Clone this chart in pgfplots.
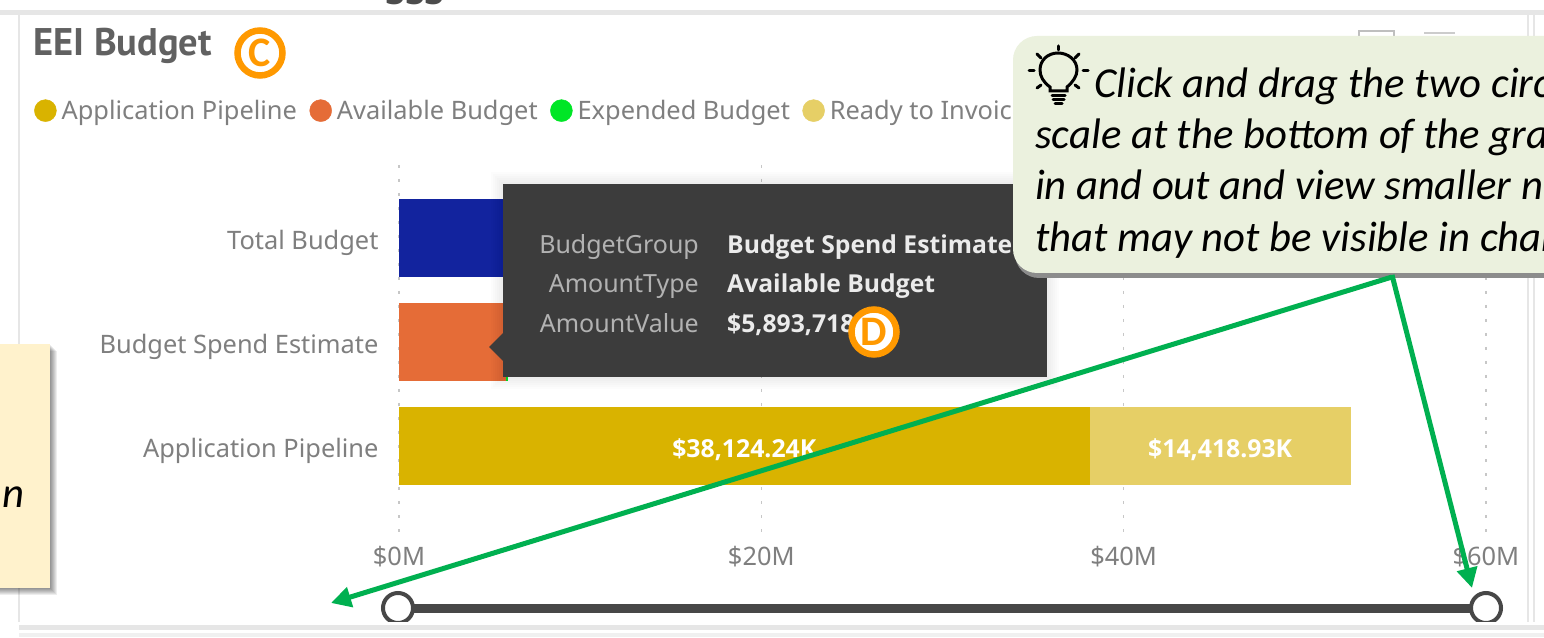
\documentclass[border=0pt]{standalone}
\usepackage{fontspec}
\setmainfont{Noto Sans}
\newfontfamily\calibri{Carlito}
\newfontfamily\titlefont{PT Sans}
\newfontfamily\boldfont{Open Sans}
\usepackage{pgfplots}
\pgfplotsset{compat=1.18}
\usetikzlibrary{arrows.meta}
\definecolor{pipe}{HTML}{D9B300}
\definecolor{avail}{HTML}{E56C37}
\definecolor{exp}{HTML}{00E626}
\definecolor{ready}{HTML}{E6CF66}
\definecolor{total}{HTML}{12239E}
\definecolor{ticktxt}{HTML}{7F7F7F}
\definecolor{callout}{HTML}{EBF1DE}
\definecolor{note}{HTML}{FFF2CC}
\definecolor{arrowg}{HTML}{00B050}
\definecolor{ringo}{HTML}{FF9900}
\definecolor{tip}{HTML}{3C3C3C}
\definecolor{band}{HTML}{E6E6E6}
\begin{document}
\begin{tikzpicture}
\path[use as bounding box] (0pt,0pt) rectangle (1544pt,637pt);
\clip (0pt,0pt) rectangle (1544pt,637pt);
\begin{scope}[x=1pt,y=-1pt,shift={(0pt,637pt)}]
  % cut-off text at the very top
  \node[anchor=center,text=black!70,font=\boldfont\fontsize{36}{36}\selectfont\bfseries] at (415,-8) {SSS};
  \fill[white] (0,10) rectangle (1544,637);
  % panel frame
  \fill[band] (0,10) rectangle (1544,15);
  \draw[band,line width=1.5pt] (19,12) -- (19,628);
  \draw[band,line width=2pt] (1528,12) -- (1528,628);
  \draw[band,line width=2pt] (1534,12) -- (1534,628);
  \draw[black!25,line width=1.2pt] (1359,37) -- (1359,31) -- (1394,31) -- (1394,37);
  \draw[black!20,line width=1.2pt] (1424,33) -- (1455,33);
\end{scope}

\begin{axis}[
  at={(399pt,102pt)},anchor=south west,
  scale only axis,width=1087pt,height=370pt,
  xbar stacked,bar width=78pt,
  xmin=0,xmax=60,
  ymin=-0.702,ymax=2.856,y dir=reverse,
  xtick={0,20,40,60},
  xticklabels={\$0M,\$20M,\$40M,\$60M},
  ytick={0,1,2},
  yticklabels={Total Budget,Budget Spend Estimate,Application Pipeline},
  xmajorgrids=true,
  grid style={draw=black!22,line width=1.2pt,dash pattern=on 3pt off 11pt},
  axis line style={draw=none},
  major tick style={draw=none},
  tick label style={font=\fontsize{25.4}{25.4}\selectfont,text=ticktxt},
  yticklabel style={xshift=-17pt,yshift=-5pt},
  xticklabel style={yshift=-8pt},
  title={EEI Budget},
  every axis title shift=0pt,
  title style={at={(-0.3367,1.3220)},anchor=west,font=\titlefont\fontsize{38.5}{38.5}\selectfont\bfseries,text=black!62,inner sep=0pt},
  legend columns=4,
  legend style={at={(-0.3358,1.1810)},anchor=north west,draw=none,fill=none,
    font=\fontsize{25.4}{25.4}\selectfont,text=ticktxt,inner sep=0pt,
    /tikz/every odd column/.style={column sep=3pt},
    /tikz/every even column/.style={column sep=10.5pt}},
  legend cell align=left,
  clip=false,
]
\addlegendimage{legend image code/.code={\fill[pipe] (11pt,0pt) circle (11pt);}}
\addlegendentry{Application Pipeline}
\addlegendimage{legend image code/.code={\fill[avail] (11pt,0pt) circle (11pt);}}
\addlegendentry{Available Budget}
\addlegendimage{legend image code/.code={\fill[exp] (11pt,0pt) circle (11pt);}}
\addlegendentry{Expended Budget}
\addlegendimage{legend image code/.code={\fill[ready] (11pt,0pt) circle (11pt);}}
\addlegendentry{Ready to Invoice}
\addplot[forget plot,fill=total,draw=none] coordinates {(6.0,0) (0,1) (0,2)};
\addplot[forget plot,fill=avail,draw=none] coordinates {(0,0) (5.894,1) (0,2)};
\addplot[forget plot,fill=exp,draw=none] coordinates {(0,0) (0.12,1) (0,2)};
\addplot[forget plot,fill=pipe,draw=none] coordinates {(0,0) (0,1) (38.124,2)};
\addplot[forget plot,fill=ready,draw=none] coordinates {(0,0) (0,1) (14.419,2)};
\end{axis}
% value labels over the stacked bars, same geometry
\begin{axis}[
  at={(399pt,102pt)},anchor=south west,
  scale only axis,width=1087pt,height=370pt,
  xmin=0,xmax=60,ymin=-0.702,ymax=2.856,y dir=reverse,
  hide axis,clip=false,
]
\addplot[draw=none,mark=none,point meta=explicit symbolic,
  nodes near coords,nodes near coords align=center,
  every node near coord/.append style={text=white,anchor=center,font=\boldfont\fontsize{24.8}{24.8}\selectfont\bfseries}]
  coordinates {(19.06,2.04)[\$38,124.24K] (45.33,2.04)[\$14,418.93K]};
\end{axis}

\begin{scope}[x=1pt,y=-1pt,shift={(0pt,637pt)}]
  % tooltip
  \foreach \d in {2,4,...,12}{\fill[black,opacity=.012] (503-\d,184-\d) rectangle (1047+\d,377+\d);}
  \fill[tip] (503,184) rectangle (1047,377);
  \fill[tip] (489,347) -- (503,333) -- (503,361) -- cycle;
  \begin{scope}[every node/.style={inner sep=0pt}]
    \node[anchor=base east,text=black!30,font=\fontsize{25}{25}\selectfont] at (699,254) {BudgetGroup};
    \node[anchor=base east,text=black!30,font=\fontsize{25}{25}\selectfont] at (699,293) {AmountType};
    \node[anchor=base east,text=black!30,font=\fontsize{25}{25}\selectfont] at (699,333) {AmountValue};
    \node[anchor=base west,text=black!8,font=\boldfont\fontsize{24.7}{24.7}\selectfont\bfseries] at (727,254) {Budget Spend Estimate};
    \node[anchor=base west,text=black!8,font=\boldfont\fontsize{24.7}{24.7}\selectfont\bfseries] at (727,293) {Available Budget};
    \node[anchor=base west,text=black!8,font=\boldfont\fontsize{24.7}{24.7}\selectfont\bfseries] at (727,333) {\$5,893,718};
  \end{scope}
  % left note
  \foreach \d in {1,2,...,7}{\fill[black,opacity=.07] (0,344+\d) rectangle (50+\d,588+\d);}
  \fill[note] (0,344) rectangle (50,588);
  \node[anchor=base west,inner sep=0pt,font=\calibri\itshape\fontsize{42.7}{42.7}\selectfont] at (2,508) {n};
  % callout
  \fill[black!45,rounded corners=24pt] (1015,42) rectangle (1600,278);
  \fill[callout,rounded corners=24pt] (1013,36) rectangle (1600,273);
  \begin{scope}[every node/.style={anchor=base west,inner sep=0pt,font=\calibri\itshape\fontsize{42.7}{42.7}\selectfont}]
    \node at (1094,98) {Click and drag the two circles on the};
    \node at (1035,149) {scale at the bottom of the graph to zoom};
    \node at (1035,200) {in and out and view smaller numbers};
    \node at (1035,252) {that may not be visible in charts};
  \end{scope}
  % bulb icon
  \begin{scope}[line width=3pt,black,line cap=round]
    \draw (1050,91) -- (1050,87) .. controls (1043,82) and (1040,76) .. (1040,70)
      .. controls (1040,60) and (1048,53) .. (1058,53)
      .. controls (1068,53) and (1077,60) .. (1077,70)
      .. controls (1077,76) and (1073,82) .. (1067,87) -- (1067,91) -- cycle;
    \draw (1052,96) -- (1065,96);
    \draw (1053,100) -- (1064,100);
    \draw (1055,104) -- (1062,104);
    \draw (1058,46) -- (1058,50);
    \draw (1037,54) -- (1041,58);
    \draw (1079,54) -- (1075,58);
    \draw (1029,71) -- (1034,71);
    \draw (1083,71) -- (1088,71);
    \draw (1037,88) -- (1041,85);
    \draw (1079,88) -- (1075,85);
  \end{scope}
  % slider
  \draw[black!72,line width=9pt] (398,608) -- (1487,608);
  \filldraw[fill=white,draw=black!72,line width=4pt] (398,608) circle (15pt);
  \filldraw[fill=white,draw=black!72,line width=4pt] (1486,608) circle (15pt);
  % bottom band
  \fill[white] (0,622) rectangle (1544,637);
  \fill[band] (19,625) rectangle (1544,630);
  \fill[black!6] (19,633) rectangle (1544,637);
  % green arrows
  \draw[arrowg,line width=5pt,-{Triangle[length=20pt,width=20pt]}] (1392,277) -- (331,603);
  \draw[arrowg,line width=5pt,-{Triangle[length=20pt,width=20pt]}] (1392,275) -- (1472,588);
  % badges
  \filldraw[fill=white,draw=ringo,line width=6.5pt] (260,53) circle (22.5pt);
  \node[text=ringo,font=\calibri\bfseries\fontsize{42}{42}\selectfont] at (260,53) {C};
  \filldraw[fill=white,draw=ringo,line width=6.5pt] (874,332) circle (22.5pt);
  \node[text=ringo,font=\calibri\bfseries\fontsize{42}{42}\selectfont] at (874,332) {D};
\end{scope}
\end{tikzpicture}
\end{document}
